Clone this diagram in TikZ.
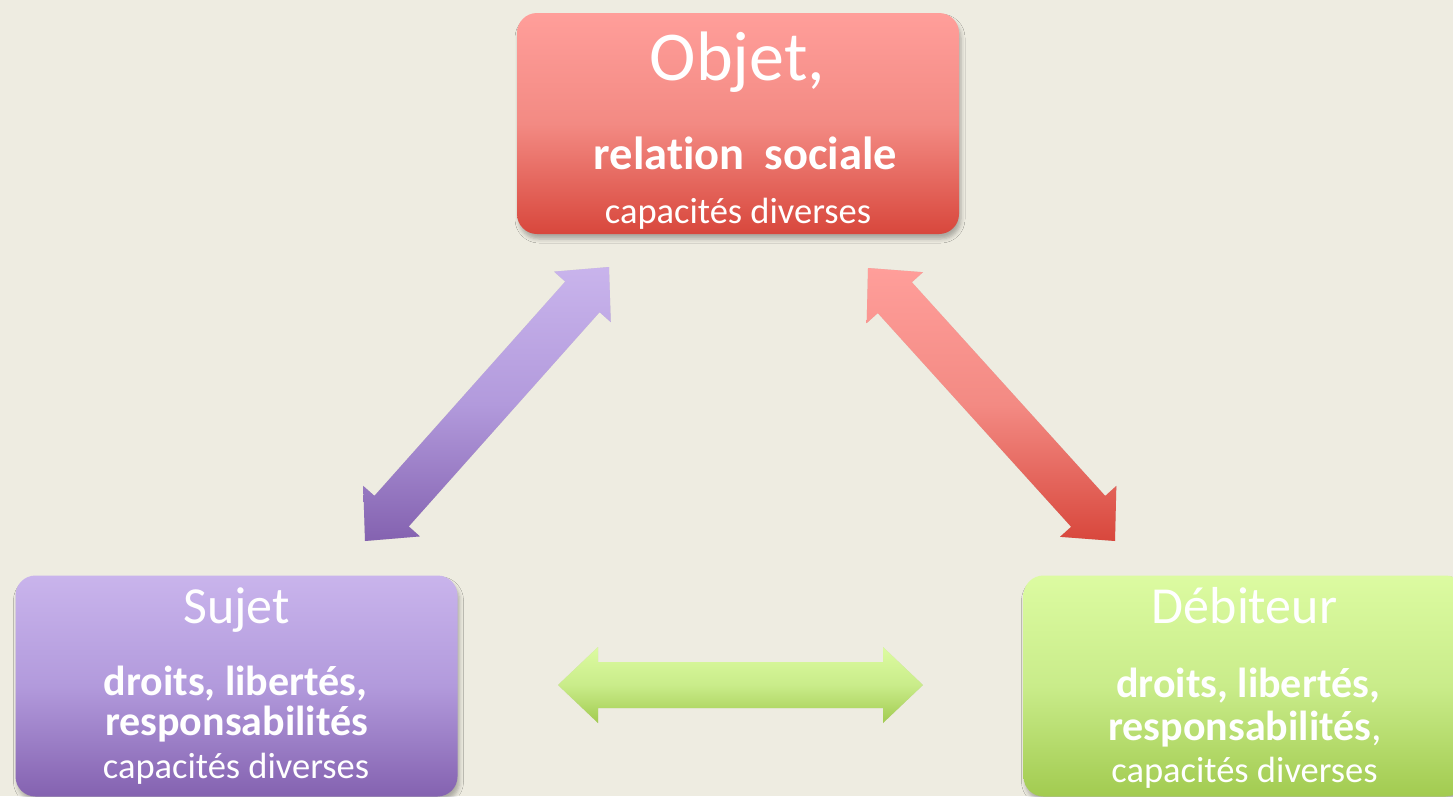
\documentclass[tikz,border=0pt]{standalone}
\usepackage{fontspec}
\setmainfont[Ligatures=NoCommon, RawFeature={-liga;-clig;-dlig}]{Carlito}
\usetikzlibrary{calc,shadows.blur}
\definecolor{bg}{HTML}{EEECE1}
\definecolor{redT}{HTML}{FF9E9A}
\definecolor{redM}{HTML}{F38A83}
\definecolor{redB}{HTML}{D8473C}
\definecolor{purT}{HTML}{C9B4EC}
\definecolor{purM}{HTML}{B29ADC}
\definecolor{purB}{HTML}{8462B0}
\definecolor{grnT}{HTML}{DCFBA1}
\definecolor{grnM}{HTML}{C9EC8A}
\definecolor{grnB}{HTML}{A2CB50}
\newcommand\blockarr[3]{%
  \path[#3] (#1)
    -- ($(#1)!40pt!(#2)!38pt!90:(#2)$)
    -- ($(#1)!40pt!(#2)!23pt!90:(#2)$)
    -- ($(#2)!40pt!(#1)!23pt!-90:(#1)$)
    -- ($(#2)!40pt!(#1)!38pt!-90:(#1)$)
    -- (#2)
    -- ($(#2)!40pt!(#1)!38pt!90:(#1)$)
    -- ($(#2)!40pt!(#1)!23pt!90:(#1)$)
    -- ($(#1)!40pt!(#2)!23pt!-90:(#2)$)
    -- ($(#1)!40pt!(#2)!38pt!-90:(#2)$)
    -- cycle;}
\begin{document}
\begin{tikzpicture}[x=1pt,y=-1pt,
  box/.style={rounded corners=20pt, minimum width=442pt, minimum height=221pt,
    inner sep=0pt, blur shadow={shadow xshift=2pt, shadow yshift=-5pt,
    shadow blur radius=4pt, shadow opacity=28}},
  txt/.style={text=white, anchor=base, inner sep=0pt},
  big/.style={font=\fontsize{52}{60}\selectfont},
  bld/.style={font=\fontsize{42}{50}\selectfont\bfseries},
  sml/.style={font=\fontsize{36.5}{44}\selectfont},
  arrshadow/.style={fill=black, fill opacity=0.12, shift={(3pt,-5pt)}},
]
\useasboundingbox (0,0) rectangle (1453,796);
\clip (0,0) rectangle (1453,796);
\fill[bg] (0,0) rectangle (1453,796);

% boxes
\node[box, top color=redT, bottom color=redB, middle color=redM] (obj) at (738,123.5) {};
\node[box, top color=purT, bottom color=purB, middle color=purM] (suj) at (236.5,686) {};
\node[box, top color=grnT, bottom color=grnB, middle color=grnM] (deb) at (1244.5,686) {};

% texts of Objet
\node[txt, font=\fontsize{70}{80}\selectfont] (objT) at (737.5,80) {Objet,};
\node[txt, font=\fontsize{46.5}{54}\selectfont\bfseries] (objR) at (745.5,169) {relation\hspace{0.43em}sociale};
\node[txt, sml] (objC) at (738,223) {capacités diverses};

% texts of Sujet
\node[txt, big] (sujT) at (236.5,623) {Sujet};
\node[txt, bld] (sujD) at (235.5,695) {droits, libertés,};
\node[txt, bld] (sujR) at (236.5,735) {responsabilités};
\node[txt, sml] (sujC) at (236,778) {capacités diverses};

% texts of Débiteur
\node[txt, big] (debT) at (1244.5,623) {Débiteur};
\node[txt, bld] (debD) at (1248,697) {droits, libertés,};
\node[txt, bld] (debR) at (1245,740) {responsabilités\textmd{,}};
\node[txt, sml] (debC) at (1244.5,782) {capacités diverses};

% arrow end points
\coordinate (pA) at (365,541);
\coordinate (pB) at (609,267);
\coordinate (rA) at (868,268);
\coordinate (rB) at (1115,541);
\coordinate (gA) at (558,685);
\coordinate (gB) at (923,685);

\blockarr{pA}{pB}{arrshadow}
\blockarr{rA}{rB}{arrshadow}
\blockarr{gA}{gB}{arrshadow}
\blockarr{pA}{pB}{top color=purT, bottom color=purB, middle color=purM}
\blockarr{rA}{rB}{top color=redT, bottom color=redB, middle color=redM}
\blockarr{gA}{gB}{top color=grnT, bottom color=grnB, middle color=grnM}
\end{tikzpicture}
\end{document}
